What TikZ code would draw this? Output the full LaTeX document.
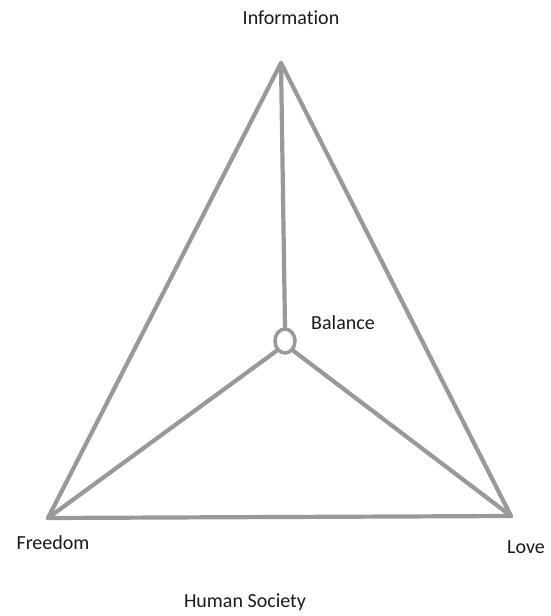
\documentclass[tikz,border=0pt]{standalone}
\usepackage{fontspec}
\usetikzlibrary{shapes.geometric}
\setmainfont{Carlito}[Ligatures={NoCommon}]
\begin{document}
\begin{tikzpicture}[x=1pt,y=-1pt,
  edge/.style={draw=black!40,line width=4.2pt,line cap=round,line join=round},
  lbl/.style={font=\fontsize{20}{24}\selectfont,text=black!90,inner sep=0pt}]
\useasboundingbox (0,0) rectangle (550,616);
\coordinate (I) at (281,63);
\coordinate (F) at (48,518);
\coordinate (L) at (511,516);
\node[draw=black!40,line width=3.5pt,ellipse,minimum width=20pt,minimum height=24pt,inner sep=0pt] (B) at (285,341) {};
\draw[edge] (I) -- (F) -- (L) -- cycle;
\draw[edge] (I) -- (B.north);
\draw[edge] (B.south west) -- (F);
\draw[edge] (B.south east) -- (L);
\node[lbl] (tI) at (291,18) {Informa\kern0pt tion};
\node[lbl] (tB) at (343,323) {Balance};
\node[lbl] (tF) at (53,543) {Freedom};
\node[lbl] (tL) at (526,547) {Love};
\node[lbl] (tH) at (245,602) {Human Society};
\end{tikzpicture}
\end{document}
